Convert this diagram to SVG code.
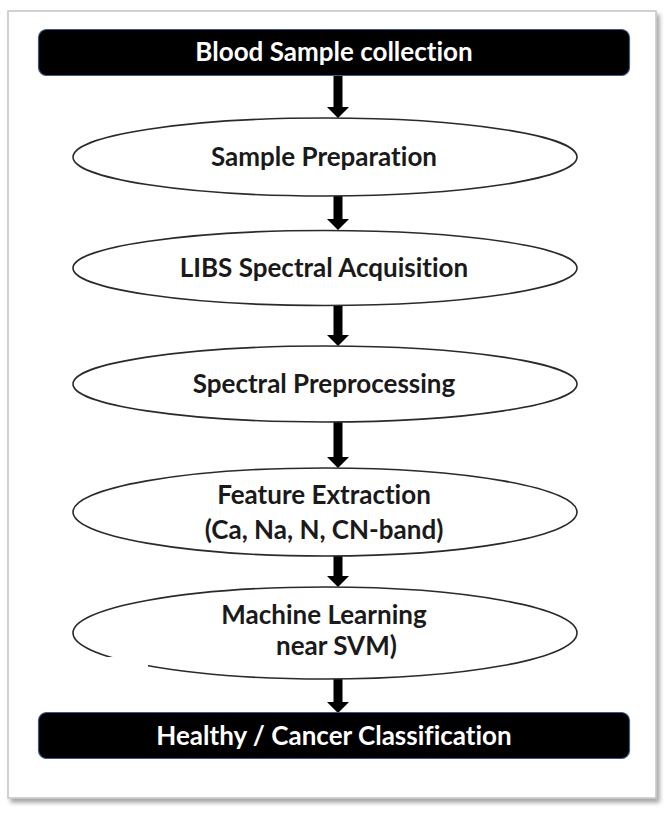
<svg xmlns="http://www.w3.org/2000/svg" width="669" height="814" viewBox="0 0 669 814">
<defs>
<filter id="sh" x="-5%" y="-5%" width="110%" height="110%">
<feDropShadow dx="3" dy="4" stdDeviation="2" flood-color="#000" flood-opacity="0.35"/>
</filter>
<style>
.box{fill:#000;stroke:#3d5a8a;stroke-width:1.2}
.ell{fill:#fff;stroke:#2a2a2a;stroke-width:1.6}
.arr{fill:#000}
text{font-family:Lato,"Liberation Sans",sans-serif;font-weight:700;font-size:26px;text-anchor:middle;font-variant-ligatures:none}
.tw{fill:#fff}
.tb{fill:#1a1a1a}
</style>
</defs>
<rect x="0" y="0" width="669" height="814" fill="#fff"/>
<rect x="8" y="11" width="648" height="787" fill="#fff" stroke="#c4c4c4" stroke-width="1.5" filter="url(#sh)"/>

<g id="connectors">
<path class="arr" d="M333.5 76H342.5V107H349L338 118L327 107H333.5Z"/>
<path class="arr" d="M333.5 196H342.5V219H349L338 230L327 219H333.5Z"/>
<path class="arr" d="M333.5 305H342.5V335H349L338 346L327 335H333.5Z"/>
<path class="arr" d="M333.5 422H342.5V457H349L338 468L327 457H333.5Z"/>
<path class="arr" d="M333.5 556H342.5V576H349L338 587L327 576H333.5Z"/>
<path class="arr" d="M333.5 679H342.5V702H349L338 713L327 702H333.5Z"/>
</g>

<g id="blood">
<rect class="box" x="38.5" y="29.5" width="591" height="46" rx="8"/>
<text class="tw" x="334" y="61">Blood Sample collection</text>
</g>
<g id="prep">
<ellipse class="ell" cx="325" cy="157" rx="252" ry="39"/>
<text class="tb" x="324" y="166">Sample Preparation</text>
</g>
<g id="libs">
<ellipse class="ell" cx="325" cy="268" rx="252" ry="37.5"/>
<text class="tb" x="324" y="277">LIBS Spectral Acquisition</text>
</g>
<g id="preproc">
<ellipse class="ell" cx="325" cy="384" rx="252" ry="38"/>
<text class="tb" x="324" y="393">Spectral Preprocessing</text>
</g>
<g id="feature">
<ellipse class="ell" cx="325" cy="512" rx="252" ry="44"/>
<text class="tb" x="324" y="504">Feature Extraction</text>
<text class="tb" x="324" y="539">(Ca, Na, N, CN-band)</text>
</g>
<g id="ml">
<ellipse class="ell" cx="325" cy="633" rx="252" ry="46"/>
<rect x="100" y="657" width="48" height="30" fill="#fff"/>
<text class="tb" x="324" y="624">Machine Learning</text>
<text class="tb" x="276" y="655" style="text-anchor:start">near SVM)</text>
</g>
<g id="result">
<rect class="box" x="38.5" y="712.5" width="591" height="46" rx="8"/>
<text class="tw" x="334" y="745">Healthy / Cancer Classification</text>
</g>
</svg>
